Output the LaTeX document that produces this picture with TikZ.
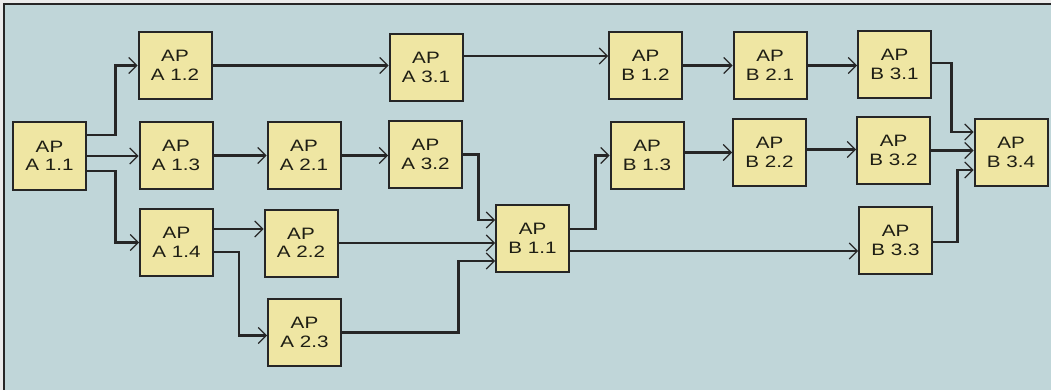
\documentclass[tikz,border=0pt]{standalone}
\usepackage{fontspec}
\newfontfamily\apfont[FakeStretch=1.25]{Liberation Sans}
\usetikzlibrary{arrows.meta}
\definecolor{bgblue}{RGB}{192,214,217}
\definecolor{apfill}{RGB}{239,230,163}
\definecolor{aptext}{RGB}{30,30,20}

\begin{document}
\begin{tikzpicture}[x=1pt, y=-1pt,
  ap/.style={draw=black!85, line width=2pt, fill=apfill, minimum width=73pt,
    minimum height=67pt, inner sep=0pt, align=center, text=aptext,
    font=\apfont\fontsize{16.5}{18.5}\selectfont},
  arr/.style={line width=2.2pt, draw=black!85,
    -{Straight Barb[length=8pt, width=16pt, line width=1.1pt]}}]
  \useasboundingbox (0,0) rectangle (1051,390);

  % Rahmen
  \fill[black!8] (0,0) rectangle (1051,390);
  \fill[bgblue] (3.5,4.5) rectangle (1051,390);
  \draw[black!85, line width=2pt] (3.5,390) -- (3.5,4.5) -- (1051,4.5);

  % Arbeitspakete A
  \node[ap] (a11) at (49.5,156) {AP\\A 1.1};
  \node[ap] (a12) at (175,65.5) {AP\\A 1.2};
  \node[ap] (a13) at (176,155.5) {AP\\A 1.3};
  \node[ap] (a14) at (176.5,242.5) {AP\\A 1.4};
  \node[ap] (a21) at (304,155.5) {AP\\A 2.1};
  \node[ap] (a22) at (301,243) {AP\\A 2.2};
  \node[ap] (a23) at (304.5,332.5) {AP\\A 2.3};
  \node[ap] (a31) at (426,67.5) {AP\\A 3.1};
  \node[ap] (a32) at (425.5,154.5) {AP\\A 3.2};

  % Arbeitspakete B
  \node[ap] (b11) at (532.5,238.5) {AP\\B 1.1};
  \node[ap] (b12) at (645.5,65.5) {AP\\B 1.2};
  \node[ap] (b13) at (647,155.5) {AP\\B 1.3};
  \node[ap] (b21) at (770,65.5) {AP\\B 2.1};
  \node[ap] (b22) at (769.5,152.5) {AP\\B 2.2};
  \node[ap] (b31) at (894.5,64.5) {AP\\B 3.1};
  \node[ap] (b32) at (893.5,150.5) {AP\\B 3.2};
  \node[ap] (b33) at (895.5,240.5) {AP\\B 3.3};
  \node[ap] (b34) at (1011,152.5) {AP\\B 3.4};

  % Abhaengigkeiten A
  \draw[arr] ([yshift=21pt]a11.east) -- ++(28.5,0) |- (a12.west);
  \draw[arr] (a11.east) coordinate (t) -- (t -| a13.west);
  \draw[arr] ([yshift=-15pt]a11.east) -- ++(28.5,0) |- (a14.west);
  \draw[arr] (a13.east) coordinate (t) -- (t -| a21.west);
  \draw[arr] ([yshift=13.5pt]a14.east) coordinate (t) -- (t -| a22.west);
  \draw[arr] ([yshift=-9.5pt]a14.east) -- ++(25,0) |- ([yshift=-3pt]a23.west);
  \draw[arr] (a12.east) coordinate (t) -- (t -| a31.west);
  \draw[arr] (a21.east) coordinate (t) -- (t -| a32.west);
  \draw[arr] ([yshift=11.5pt]a31.east) coordinate (t) -- (t -| b12.west);
  \draw[arr] (a32.east) -- ++(15.5,0) |- ([yshift=18.5pt]b11.west);
  \draw[arr] (a22.east) coordinate (t) -- (t -| b11.west);
  \draw[arr] (a23.east) -- ++(116.5,0) |- ([yshift=-22.5pt]b11.west);

  % Abhaengigkeiten B
  \draw[arr] ([yshift=9.5pt]b11.east) -- ++(25.5,0) |- (b13.west);
  \draw[arr] ([yshift=-12.5pt]b11.east) coordinate (t) -- (t -| b33.west);
  \draw[arr] (b12.east) coordinate (t) -- (t -| b21.west);
  \draw[arr] ([yshift=3pt]b13.east) coordinate (t) -- (t -| b22.west);
  \draw[arr] (b21.east) coordinate (t) -- (t -| b31.west);
  \draw[arr] ([yshift=3pt]b22.east) coordinate (t) -- (t -| b32.west);
  \draw[arr] ([yshift=1.5pt]b31.east) -- ++(19.5,0) |- ([yshift=20.5pt]b34.west);
  \draw[arr] (b32.east) coordinate (t) -- (t -| b34.west);
  \draw[arr] ([yshift=-1.5pt]b33.east) -- ++(24.5,0) |- ([yshift=-17.5pt]b34.west);
\end{tikzpicture}
\end{document}
